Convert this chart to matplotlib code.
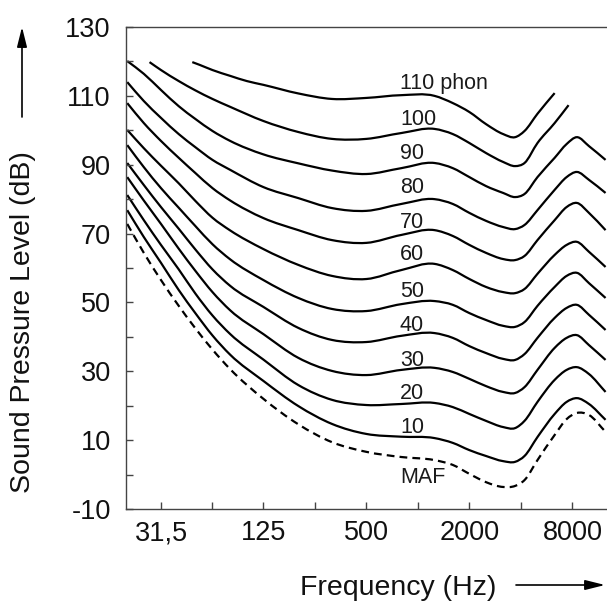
import matplotlib
matplotlib.use("Agg")
import matplotlib.pyplot as plt
import numpy as np
from matplotlib.path import Path
from matplotlib.patches import PathPatch

plt.rcParams['font.family'] = ['Liberation Sans', 'DejaVu Sans']
plt.rcParams['axes.unicode_minus'] = False

# equal loudness contours (Hz / dB)
freq = [20, 25, 31.5, 40, 50, 63, 80, 125, 200, 315, 500, 800, 1250, 1600,
        2000, 2500, 3150, 3700, 4200, 5000, 6300, 7400, 8500, 10000, 12500]

freq_110 = [48, 53, 63, 80, 100, 125, 200, 315, 500, 800, 1250, 1600, 2000,
            2500, 3150, 3700, 4200, 5000, 6300]
spl_110 = [119.8, 119.0, 117.5, 115.8, 114.3, 113.2, 110.7, 109.1, 109.4, 110.2,
           110.0, 107.9, 105.3, 101.8, 98.9, 98.0, 99.8, 104.8, 110.8]

freq_100 = [27, 31.5, 40, 50, 63, 80, 125, 200, 315, 500, 800, 1250, 1600, 2000,
            2500, 3150, 3700, 4200, 5000, 6300, 7600]
spl_100 = [119.8, 117.5, 114.3, 111.6, 109.1, 106.8, 102.7, 99.5, 97.5, 97.5, 99.2,
           100.4, 98.9, 96.3, 93.4, 90.8, 89.6, 90.5, 96.3, 102.1, 107.3]

spl_90 = [120.1, 116.4, 111.7, 107.0, 103.3, 99.8, 96.9, 93.0, 90.4, 88.3, 87.3, 89.0, 90.5,
          89.0, 86.4, 83.8, 81.8, 80.6, 81.5, 86.4, 92.0, 96.0, 98.0, 95.4, 91.4]
spl_80 = [114.0, 108.5, 103.6, 98.9, 95.1, 91.4, 88.5, 83.5, 80.3, 77.4, 76.6, 78.6, 80.0,
          78.6, 76.0, 73.7, 71.9, 71.3, 72.5, 76.8, 82.7, 86.4, 87.9, 85.6, 81.8]
spl_70 = [107.9, 102.1, 96.9, 92.0, 87.6, 83.2, 79.6, 74.5, 71.0, 68.1, 67.3, 69.6, 71.0,
          69.3, 66.7, 64.4, 62.6, 62.3, 63.5, 68.1, 73.9, 77.7, 78.9, 76.0, 71.0]
spl_60 = [100.1, 94.8, 89.7, 84.6, 79.5, 74.6, 70.9, 65.5, 60.9, 57.7, 56.8, 59.4, 61.2,
          59.4, 56.8, 54.5, 53.0, 52.7, 53.9, 58.3, 63.8, 66.7, 67.6, 64.7, 60.3]
spl_50 = [95.7, 89.3, 83.2, 77.5, 72.2, 66.9, 62.5, 56.5, 51.3, 48.1, 47.5, 49.5, 50.4,
          49.3, 46.9, 44.9, 43.2, 42.9, 44.3, 49.0, 54.5, 57.7, 58.6, 55.6, 51.3]
spl_40 = [90.5, 84.1, 77.7, 71.4, 65.4, 59.6, 54.8, 48.7, 42.6, 39.1, 38.5, 40.3, 41.1,
          39.7, 37.3, 35.3, 33.6, 33.3, 35.0, 39.7, 45.5, 48.4, 49.3, 46.4, 42.0]
spl_30 = [86.4, 79.6, 72.8, 65.6, 59.2, 53.0, 47.7, 40.8, 33.9, 30.1, 28.9, 30.4, 31.0,
          29.8, 27.8, 25.7, 24.0, 23.7, 25.4, 30.4, 36.8, 39.7, 40.5, 37.6, 33.3]
spl_20 = [81.2, 73.9, 66.7, 59.6, 52.6, 46.2, 40.8, 33.4, 26.0, 21.7, 20.2, 20.5, 20.8,
          19.6, 17.6, 15.6, 13.8, 13.5, 15.6, 21.1, 27.5, 30.4, 31.2, 29.2, 24.0]
spl_10 = [76.8, 69.0, 61.5, 53.6, 46.9, 40.4, 34.8, 27.2, 19.9, 14.7, 11.8, 11.0, 10.6,
          9.2, 7.1, 5.4, 3.9, 3.7, 5.4, 10.9, 17.6, 21.1, 22.2, 20.5, 15.9]
spl_maf = [72.8, 64.4, 56.5, 49.0, 42.5, 36.3, 30.6, 22.0, 14.6, 9.4, 6.6, 5.1, 4.2,
           2.8, 0.2, -2.2, -3.6, -3.3, -1.6, 4.2, 11.5, 16.1, 17.9, 17.3, 12.4]

curve_labels = ["110 phon", "100", "90", "80", "70", "60", "50", "40", "30", "20", "10", "MAF"]
label_spl = [112.0, 101.5, 91.7, 81.8, 71.6, 62.3, 51.6, 41.7, 31.5, 22.0, 12.1, -2.4]
label_freq = 785

xtick_freq = [31.5, 63, 125, 250, 500, 1000, 2000, 4000, 8000]
xtick_text = ["31,5", "", "125", "", "500", "", "2000", "", "8000"]


def smooth_curve(ax, f, spl, **kw):
    # smooth cubic path through the read points (log-frequency space)
    x = np.log10(f)
    y = np.asarray(spl, dtype=float)
    h = np.diff(x)
    d = np.diff(y) / h
    m = np.empty_like(y)
    m[0], m[-1] = d[0], d[-1]
    m[1:-1] = (d[:-1] * h[1:] + d[1:] * h[:-1]) / (h[:-1] + h[1:])
    verts = [(x[0], y[0])]
    codes = [Path.MOVETO]
    for i in range(len(x) - 1):
        verts.append((x[i] + h[i] / 3, y[i] + m[i] * h[i] / 3))
        verts.append((x[i + 1] - h[i] / 3, y[i + 1] - m[i + 1] * h[i] / 3))
        verts.append((x[i + 1], y[i + 1]))
        codes += [Path.CURVE4] * 3
    verts = [(10 ** vx, vy) for vx, vy in verts]
    ax.add_patch(PathPatch(Path(verts, codes), fill=False, transform=ax.transData, **kw))


fig = plt.figure(figsize=(6.07, 6.01), dpi=100)
ax = fig.add_axes([126 / 607, 92 / 601, 481 / 607, 482 / 601])
ax.set_xscale('log')
ax.set_xlim(19.67, 12745)
ax.set_ylim(-10, 130)

lw = 1.6
smooth_curve(ax, freq_110, spl_110, color='black', lw=lw)
smooth_curve(ax, freq_100, spl_100, color='black', lw=lw)
for spl in [spl_90, spl_80, spl_70, spl_60, spl_50, spl_40, spl_30, spl_20, spl_10]:
    smooth_curve(ax, freq, spl, color='black', lw=lw)
smooth_curve(ax, freq, spl_maf, color='black', lw=lw, linestyle=(0, (3.5, 2.3)))

for txt, y in zip(curve_labels, label_spl):
    ax.text(label_freq, y, txt, fontsize=15.5, color='#1a1a1a', ha='left', va='baseline')

ax.set_xticks(xtick_freq)
ax.set_xticklabels(xtick_text)
ax.xaxis.set_minor_locator(matplotlib.ticker.NullLocator())
ax.set_yticks(range(-10, 131, 20))
ax.set_yticks(range(0, 121, 20), minor=True)

ax.tick_params(axis='both', which='both', direction='in', length=5, width=1.0,
               color='#444444', labelsize=19.5, labelcolor='#111111')
ax.tick_params(axis='x', pad=8)
ax.tick_params(axis='y', pad=11)

for side in ['left', 'bottom', 'top']:
    ax.spines[side].set_color('#444444')
    ax.spines[side].set_linewidth(1.0)
ax.spines['right'].set_visible(False)

# axis titles with arrows, outside the axes
fig.text(23 / 607, 1 - 322 / 601, "Sound Pressure Level (dB)", rotation=90,
         ha='center', va='center', fontsize=20.5, color='#111111')
fig.text(398 / 607, 6 / 601, "Frequency (Hz)", ha='center', va='baseline',
         fontsize=20.5, color='#111111')

arrow = dict(arrowstyle='-|>,head_length=1.2,head_width=0.3', color='black', lw=1.2,
             shrinkA=0, shrinkB=0)
ax.annotate("", xy=(22 / 607, 1 - 27 / 601), xytext=(22 / 607, 1 - 117 / 601),
            xycoords='figure fraction', textcoords='figure fraction', arrowprops=arrow)
ax.annotate("", xy=(605 / 607, 1 - 585 / 601), xytext=(516 / 607, 1 - 585 / 601),
            xycoords='figure fraction', textcoords='figure fraction', arrowprops=arrow)

fig.savefig("out.png", dpi=100)
